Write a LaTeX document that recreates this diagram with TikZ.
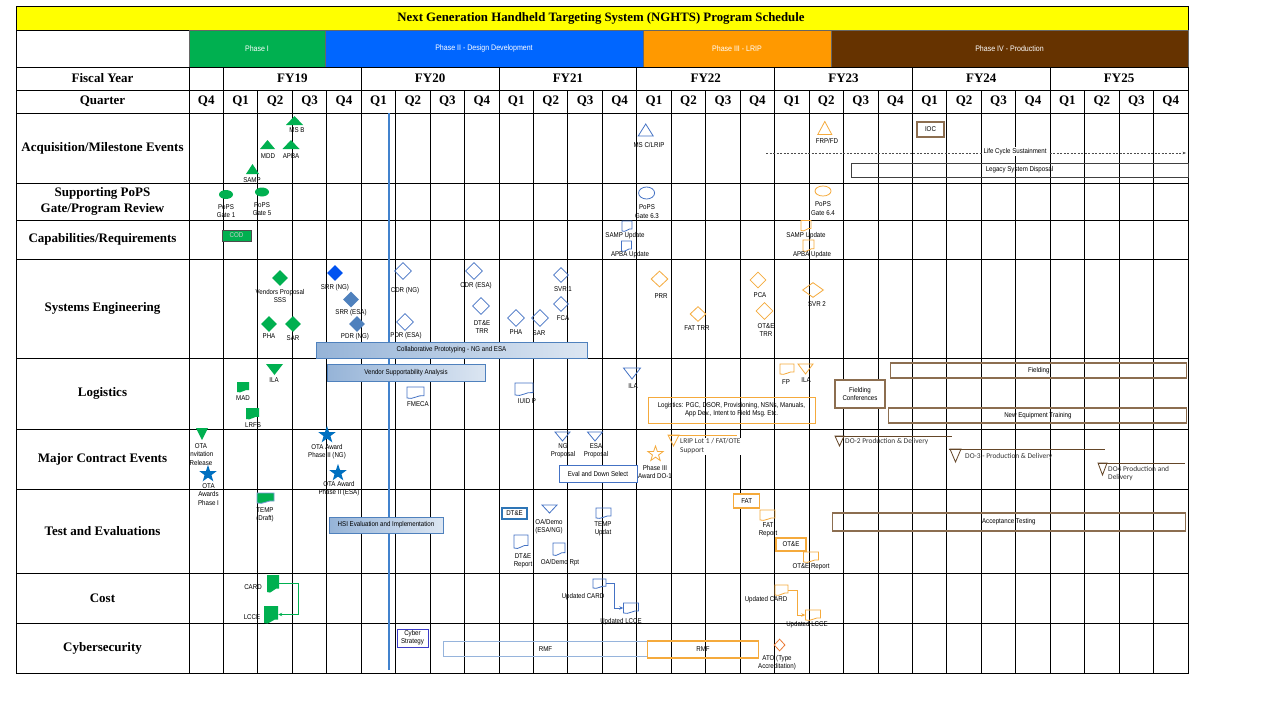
\documentclass[tikz,border=0pt]{standalone}
\usepackage{fontspec}
\setmainfont{Liberation Serif}
\newfontfamily\lblfont[FakeStretch=0.88]{Liberation Sans}
\newfontfamily\calfont{Carlito}
\usetikzlibrary{arrows.meta,shapes.geometric,calc}
\definecolor{ttlyellow}{RGB}{255,255,0}
\definecolor{phgreen}{RGB}{0,176,80}
\definecolor{phblue}{RGB}{0,102,255}
\definecolor{phorange}{RGB}{255,153,0}
\definecolor{phbrown}{RGB}{102,51,0}
\definecolor{msgreen}{RGB}{0,176,80}
\definecolor{srrblue}{RGB}{0,82,240}
\definecolor{steelblue}{RGB}{79,129,189}
\definecolor{olblue}{RGB}{68,114,196}
\definecolor{starblue}{RGB}{0,112,192}
\definecolor{olorange}{RGB}{245,170,60}
\definecolor{olbrown}{RGB}{140,110,80}
\definecolor{dkbrown}{RGB}{100,70,40}
\definecolor{cyberblue}{RGB}{60,60,200}
\definecolor{rmfblue}{RGB}{150,180,220}
\definecolor{nowline}{RGB}{65,130,205}
\definecolor{dteblue}{RGB}{46,117,182}
\definecolor{atoorange}{RGB}{235,120,50}

\begin{document}
\begin{tikzpicture}[x=1pt, y=-1pt,
  grid/.style={black, line width=0.9},
  hdr/.style={font=\bfseries\fontsize{13}{16}\selectfont, align=center, inner sep=0pt},
  lbl/.style={font=\lblfont\fontsize{7}{8.3}\selectfont, align=center, inner sep=0pt},
  phlbl/.style={font=\lblfont\fontsize{8}{9}\selectfont, inner sep=0pt, text=white, draw=black!60, line width=0.8},
  cal/.style={font=\calfont\fontsize{7.4}{8.6}\selectfont, align=left, inner sep=0pt, text=black!80},
  gfill/.style={fill=msgreen},
  bline/.style={draw=olblue, line width=0.8},
  oline/.style={draw=olorange, line width=0.8},
  brline/.style={draw=dkbrown, line width=0.8},
  dia/.style={diamond, aspect=1, minimum width=16, minimum height=16, inner sep=0pt},
  gbar/.style={lbl, draw=steelblue, line width=0.8, left color=steelblue!60, right color=steelblue!20},
  brbox/.style={lbl, draw=olbrown, line width=1.1},
  pics/uptri/.style n args={3}{code={\path[#1] (-#2/2,#3/2) -- (#2/2,#3/2) -- (0,-#3/2) -- cycle;}},
  pics/dntri/.style n args={3}{code={\path[#1] (-#2/2,-#3/2) -- (#2/2,-#3/2) -- (0,#3/2) -- cycle;}},
  pics/doc/.style n args={3}{code={
    \path[#1] (-#2/2,-#3/2) -- (#2/2,-#3/2) -- (#2/2,#3/3.3) .. controls (#2/6,#3/6) and (-#2/6,#3/2+#3/5) .. (-#2/2,#3/2) -- cycle;
    \node[inner sep=0pt, minimum width=#2, minimum height=#3] (-box) at (0,0) {};}}
]
\useasboundingbox (0,0) rectangle (1280,720);
\fill[white] (0,0) rectangle (1280,720);

% title and phases
\draw[grid, fill=ttlyellow] (16,6) rectangle (1188,30);
\node[hdr, font=\bfseries\fontsize{12.8}{15}\selectfont] (title) at (601,18) {Next Generation Handheld Targeting System (NGHTS) Program Schedule};
\draw[grid] (16,30) rectangle (189,67);
\node[phlbl, fill=phgreen, minimum width=136, minimum height=37] (ph1) at (257,48.5) {Phase I};
\node[phlbl, fill=phblue, minimum width=318, minimum height=37] (ph2) at (484,48.5) {Phase II - Design Development};
\node[phlbl, fill=phorange, minimum width=188, minimum height=37] (ph3) at (737,48.5) {Phase III - LRIP};
\node[phlbl, fill=phbrown, minimum width=357, minimum height=37] (ph4) at (1009.5,48.5) {Phase IV - Production};

% grid
\draw[grid] (16,67) rectangle (1188,673);
\draw[grid] (189,67) -- (189,673);
\foreach \y in {90,113,183,220,259,358,429,489,573,623}
  \draw[grid] (16,\y) -- (1188,\y);
\foreach \k in {1,...,28}
  \draw[grid] ({189+\k*34.448},90) -- ({189+\k*34.448},673);
\foreach \k in {1,5,9,13,17,21,25}
  \draw[grid] ({189+\k*34.448},67) -- ({189+\k*34.448},90);

% headers
\node[hdr] (fyhdr) at (102.5,78.5) {Fiscal Year};
\node[hdr] (qhdr) at (102.5,101.5) {Quarter};
\foreach \fy [count=\i from 0] in {19,...,25}
  \node[hdr] (fy\fy) at ({189+(3+4*\i)*34.448},78.5) {FY\fy};
\node[hdr] (q0) at ({189+0.5*34.448},101.5) {Q4};
\foreach \k in {1,...,28} {
  \pgfmathtruncatemacro\qq{mod(\k-1,4)+1}
  \node[hdr] (q\k) at ({189+(\k+0.5)*34.448},101.5) {Q\qq};
}
\node[hdr] (acq) at (102.5,148) {Acquisition/Milestone Events};
\node[hdr] (pops) at (102.5,201.5) {Supporting PoPS\\Gate/Program Review};
\node[hdr] (caps) at (102.5,239.5) {Capabilities/Requirements};
\node[hdr] (se) at (102.5,308.5) {Systems Engineering};
\node[hdr] (logi) at (102.5,393.5) {Logistics};
\node[hdr] (mce) at (102.5,459) {Major Contract Events};
\node[hdr] (te) at (102.5,531) {Test and Evaluations};
\node[hdr] (cost) at (102.5,598) {Cost};
\node[hdr] (cyber) at (102.5,648) {Cybersecurity};

% status line
\draw[nowline, line width=2.2] (389,113) -- (389,670);

% acquisition / milestone events
\pic at (294.5,120.5) {uptri={gfill}{17}{9}};
\pic at (267.5,144.5) {uptri={gfill}{15}{9}};
\pic at (291,144.5) {uptri={gfill}{17}{9}};
\pic at (252.5,169) {uptri={gfill}{13}{10}};
\pic at (645.7,130) {uptri={bline}{15}{12}};
\pic at (824.8,128) {uptri={oline}{14}{13}};
\node[lbl] (msbl) at (297,130) {MS B};
\node[lbl] (mddl) at (268,156) {MDD};
\node[lbl] (apbal) at (291,156) {APBA};
\node[lbl] (sampl) at (252,180) {SAMP};
\node[lbl] (mscl) at (649,145) {MS C/LRIP};
\node[lbl] (frpl) at (827,141) {FRP/FD};
\node[brbox, fill=white, minimum width=27, minimum height=15] (ioc) at (930.5,129.5) {IOC};
\coordinate (lcs0) at (766,153);
\coordinate (lcs1) at (1186,153);
\draw[black!70, line width=0.6, dash pattern=on 2pt off 1.5pt, -{Stealth[length=3.5pt]}] (lcs0) -- (lcs1);
\node[lbl, fill=white, inner sep=1.5pt] (lcsl) at (1015,151.5) {Life Cycle Sustainment};
\node[lbl, draw=black!75, line width=0.9, minimum width=337, minimum height=14] (legacy) at (1019.5,170) {Legacy System Disposal};

% supporting PoPS gates
\node[ellipse, fill=msgreen, minimum width=14, minimum height=9, inner sep=0pt] (g1) at (226,194.5) {};
\node[ellipse, fill=msgreen, minimum width=14, minimum height=9, inner sep=0pt] (g5) at (262,192) {};
\node[ellipse, draw=olblue, line width=0.8, minimum width=16, minimum height=12, inner sep=0pt] (g63) at (646.6,193) {};
\node[ellipse, draw=olorange, line width=0.8, minimum width=16, minimum height=10, inner sep=0pt] (g64) at (823,191) {};
\node[lbl] (g1l) at (226,211) {PoPS\\Gate 1};
\node[lbl] (g5l) at (262,209) {PoPS\\Gate 5};
\node[lbl] (g63l) at (647,211.5) {PoPS\\Gate 6.3};
\node[lbl] (g64l) at (823,208.5) {PoPS\\Gate 6.4};

% capabilities / requirements
\node[lbl, fill=msgreen, draw=black!70, line width=0.8, minimum width=29, minimum height=11, text=white!80!black] (cod) at (236.5,235.5) {COD};
\pic at (627,226) {doc={bline}{10}{10}};
\pic at (626.5,246) {doc={bline}{10}{10}};
\pic at (806,225.5) {doc={oline}{10}{10}};
\pic at (808.5,245.5) {doc={oline}{11}{11}};
\node[lbl] (sampu1) at (625,236) {SAMP Update};
\node[lbl] (apbau1) at (630,255) {APBA Update};
\node[lbl] (sampu2) at (806,236) {SAMP Update};
\node[lbl] (apbau2) at (812,255) {APBA Update};

% systems engineering
\node[dia, gfill] (vps) at (280,278) {};
\node[dia, gfill] (pha1) at (269,324) {};
\node[dia, gfill] (sar1) at (293,324) {};
\node[dia, fill=srrblue] (srrng) at (335,273) {};
\node[dia, fill=steelblue] (srresa) at (351,299.5) {};
\node[dia, fill=steelblue] (pdrng) at (357,324) {};
\node[dia, bline, minimum width=17, minimum height=17] (cdrng) at (403,271) {};
\node[dia, bline, minimum width=17, minimum height=17] (pdresa) at (405,322) {};
\node[dia, bline, minimum width=17, minimum height=17] (cdresa) at (474,271) {};
\node[dia, bline, minimum width=17, minimum height=17] (dtetrr) at (481,306) {};
\node[dia, bline, minimum width=17, minimum height=17] (pha2) at (516,318) {};
\node[dia, bline, minimum width=17, minimum height=17] (sar2) at (540,318) {};
\node[dia, bline, minimum width=15, minimum height=15] (svr1) at (561,275) {};
\node[dia, bline, minimum width=15, minimum height=15] (fca) at (561,304) {};
\node[dia, oline, minimum width=17, minimum height=16] (prr) at (659.5,279) {};
\node[dia, oline, minimum width=16, minimum height=15] (fattrr) at (698,314) {};
\node[dia, oline] (pca) at (758,280) {};
\node[dia, oline, minimum width=17, minimum height=17] (otetrr) at (764.5,311) {};
\node[dia, oline, minimum width=21, minimum height=15] (svr2) at (813,290) {};
\node[lbl] (vpsl) at (280,296) {Vendors Proposal\\SSS};
\node[lbl] (pha1l) at (269,336) {PHA};
\node[lbl] (sar1l) at (293,338) {SAR};
\node[lbl] (srrngl) at (335,288) {SRR (NG)};
\node[lbl] (srresal) at (351,313) {SRR (ESA)};
\node[lbl] (pdrngl) at (355,337) {PDR (NG)};
\node[lbl] (cdrngl) at (405,291) {CDR (NG)};
\node[lbl] (pdresal) at (406,336) {PDR (ESA)};
\node[lbl] (cdresal) at (476,286) {CDR (ESA)};
\node[lbl] (dtetrrl) at (482,327) {DT\&E\\TRR};
\node[lbl] (pha2l) at (516,332) {PHA};
\node[lbl] (sar2l) at (539,333) {SAR};
\node[lbl] (svr1l) at (563,289) {SVR 1};
\node[lbl] (fcal) at (563,318) {FCA};
\node[lbl] (prrl) at (661,296) {PRR};
\node[lbl] (fattrrl) at (697,328) {FAT TRR};
\node[lbl] (pcal) at (760,295) {PCA};
\node[lbl] (otetrrl) at (766,330) {OT\&E\\TRR};
\node[lbl] (svr2l) at (817,304) {SVR 2};
\node[gbar, minimum width=271, minimum height=16] (collab) at (451.5,350) {Collaborative Prototyping - NG and ESA};

% logistics
\node[gbar, minimum width=158, minimum height=17] (vsa) at (406,372.5) {Vendor Supportability Analysis};
\pic at (274.5,369.5) {dntri={gfill}{17}{11}};
\pic at (632,373.5) {dntri={bline}{17}{11}};
\pic at (805.5,369) {dntri={oline}{15}{10}};
\pic at (243,387) {doc={gfill}{12}{10}};
\pic at (252.5,413.5) {doc={gfill}{13}{11}};
\pic at (415.5,392.5) {doc={bline}{17}{11}};
\pic at (524,389) {doc={bline}{18}{12}};
\pic at (787,369) {doc={oline}{14}{10}};
\node[lbl] (ila1l) at (274,380) {ILA};
\node[lbl] (madl) at (243,398) {MAD};
\node[lbl] (lrfsl) at (253,425) {LRFS};
\node[lbl] (fmecal) at (418,404) {FMECA};
\node[lbl] (iuidl) at (527,401) {IUID P};
\node[lbl] (ila2l) at (633,386) {ILA};
\node[lbl] (fpl) at (786,382) {FP};
\node[lbl] (ila3l) at (806,380) {ILA};
\node[lbl, draw=olorange, line width=1, minimum width=167, minimum height=26] (logbox) at (731.5,410) {Logistics: PGC, DSOR, Provisioning, NSNs, Manuals,\\App Dev., Intent to Field Msg.\ Etc.};
\node[brbox, fill=white, minimum width=50, minimum height=28] (fconf) at (860,394) {Fielding\\Conferences};
\node[brbox, minimum width=296, minimum height=15] (fielding) at (1038.8,370.5) {Fielding};
\node[brbox, minimum width=298, minimum height=15] (net) at (1037.9,415.5) {New Equipment Training};

% major contract events
\pic at (202,434) {dntri={gfill}{12}{12}};
\node[star, star points=5, star point ratio=2.5, minimum size=18, inner sep=0pt, fill=starblue] (otaaw) at (208,474) {};
\node[star, star points=5, star point ratio=2.5, minimum size=18, inner sep=0pt, fill=starblue] (otang) at (327,435) {};
\node[star, star points=5, star point ratio=2.5, minimum size=18, inner sep=0pt, fill=starblue] (otaesa) at (338,473) {};
\pic at (562.5,436.5) {dntri={bline}{15}{9}};
\pic at (595,436.5) {dntri={bline}{15}{9}};
\node[lbl] (otairl) at (201,454.5) {OTA\\Invitation\\Release};
\node[lbl] (otaawl) at (208.5,494.5) {OTA\\Awards\\Phase I};
\node[lbl] (otangl) at (327,452) {OTA Award\\Phase II (NG)};
\node[lbl] (otaesal) at (339,489) {OTA Award\\Phase II (ESA)};
\node[lbl] (ngpl) at (563,450.5) {NG\\Proposal};
\node[lbl] (esapl) at (596,450.5) {ESA\\Proposal};
\node[lbl, draw=olblue, line width=1, fill=white, minimum width=78, minimum height=17] (evalds) at (598,473.5) {Eval and Down Select};
\draw[olorange, line width=1] (668,435) -- (737,435);
\pic at (673.5,440.5) {dntri={oline}{11}{11}};
\node[cal, anchor=north west, fill=white, inner sep=1pt] (lripl) at (679,437.5) {LRIP Lot 1 / FAT/OTE\\Support};
\node[star, star points=5, star point ratio=2.5, minimum size=16, inner sep=0pt, oline] (ph3aw) at (655.5,454) {};
\node[lbl] (ph3awl) at (655,472) {Phase III\\Award DO-1};
\draw[dkbrown, line width=1] (835,436) -- (952,436);
\pic at (839.5,441) {dntri={brline}{9}{10}};
\node[cal, anchor=west] (do2l) at (845,441.5) {DO-2 Production \& Delivery};
\draw[dkbrown, line width=1] (948.5,449) -- (1105,449);
\pic at (955.5,455.5) {dntri={brline}{11}{13}};
\node[cal, anchor=west] (do3l) at (965,457) {DO-3 - Production \& Delivery};
\draw[dkbrown, line width=1] (1098,463) -- (1185,463);
\pic at (1102.5,469) {dntri={brline}{9}{12}};
\node[cal, anchor=north west] (do4l) at (1108,466) {DO4 Production and\\Delivery};

% test and evaluations
\pic at (265.5,498) {doc={fill=msgreen, draw=olblue!70, line width=0.8}{17}{10}};
\node[lbl] (tempdl) at (265,515) {TEMP\\(Draft)};
\node[gbar, minimum width=114, minimum height=16] (hsi) at (386,525) {HSI Evaluation and Implementation};
\node[lbl, draw=dteblue, line width=1.3, fill=white, minimum width=25, minimum height=11] (dte) at (514.5,513.5) {DT\&E};
\pic at (549.5,509) {dntri={bline}{15}{8}};
\node[lbl] (oademol) at (549,526.5) {OA/Demo\\(ESA/NG)};
\pic at (603.5,513) {doc={bline}{15}{10}};
\node[lbl] (tempul) at (603,528.5) {TEMP\\Updat};
\pic at (521,541.5) {doc={bline}{14}{13}};
\node[lbl] (dterl) at (523,561) {DT\&E\\Report};
\pic at (559,549) {doc={bline}{12}{12}};
\node[lbl] (oarptl) at (560,563) {OA/Demo Rpt};
\node[lbl, draw=olorange, line width=1.3, fill=white, minimum width=26, minimum height=14] (fat) at (746.7,501) {FAT};
\pic at (767.5,515) {doc={oline}{15}{10}};
\node[lbl] (fatrl) at (768,529.5) {FAT\\Report};
\node[lbl, draw=olorange, line width=1.3, fill=white, minimum width=30, minimum height=13] (ote) at (791,544.5) {OT\&E};
\pic at (811,557) {doc={oline}{15}{10}};
\node[lbl] (oterl) at (811,567) {OT\&E Report};
\node[brbox, minimum width=353, minimum height=18] (acctest) at (1008.8,522) {Acceptance Testing};

% cost
\pic (card) at (273,583.5) {doc={gfill}{12}{17}};
\pic (lcce) at (271,614.5) {doc={gfill}{14}{17}};
\node[lbl] (cardl) at (253,587) {CARD};
\node[lbl] (lccel) at (252,617) {LCCE};
\draw[msgreen, line width=0.9, -{Stealth[length=4pt,width=3.5pt]}] (card-box.east) -- ++(19,0) |- (lcce-box.east);
\pic (bcard) at (599.5,583.5) {doc={bline}{13}{9}};
\pic (blcce) at (631,608) {doc={bline}{15}{10}};
\node[lbl] (bcardl) at (583,597) {Updated CARD};
\node[lbl] (blccel) at (621,622) {Updated LCCE};
\draw[olblue, line width=0.8, -{Stealth[length=4pt,width=3.5pt]}] (bcard-box.east) -- ++(8,0) |- (blcce-box.west);
\pic (ocard) at (781.5,590) {doc={oline}{13}{10}};
\pic (olcce) at (813,615) {doc={oline}{15}{10}};
\node[lbl] (ocardl) at (766,600) {Updated CARD};
\node[lbl] (olccel) at (807,625) {Updated LCCE};
\draw[olorange, line width=0.8, -{Stealth[length=4pt,width=3.5pt]}] (ocard-box.east) -- ++(9,0) |- (olcce-box.west);

% cybersecurity
\node[lbl, draw=cyberblue, line width=1, fill=white, minimum width=31, minimum height=18] (cyst) at (412.5,638) {Cyber\\Strategy};
\node[lbl, draw=rmfblue, line width=1.3, minimum width=204, minimum height=15] (rmfb) at (545.5,649) {RMF};
\node[lbl, draw=olorange, line width=1.3, minimum width=111, minimum height=17] (rmfo) at (703,649.5) {RMF};
\node[dia, draw=atoorange, line width=0.8, minimum width=11, minimum height=12] (ato) at (779.6,645) {};
\node[lbl] (atol) at (777,662.5) {ATO (Type\\Accreditation)};
\end{tikzpicture}
\end{document}
